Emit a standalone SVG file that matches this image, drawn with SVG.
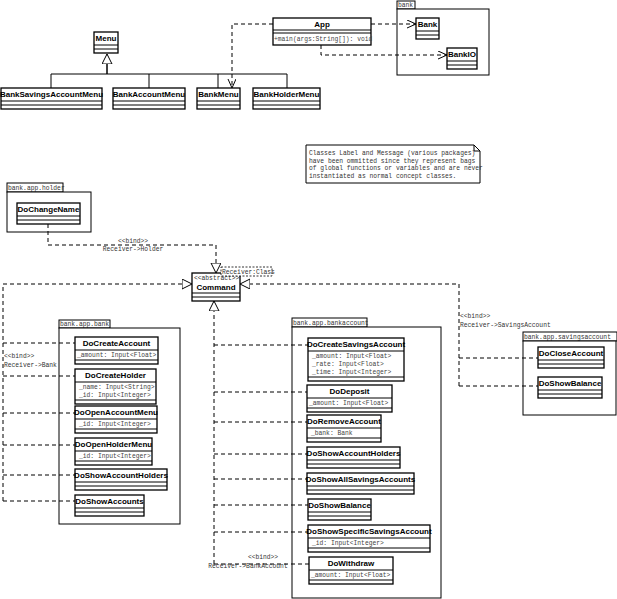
<svg xmlns="http://www.w3.org/2000/svg" width="617" height="599" viewBox="0 0 617 599">
<style>
.b{fill:#fff;stroke:#000;stroke-width:1.3}
.s{stroke:#000;stroke-width:1}
.t{font-family:"Liberation Sans",Arial,sans-serif;font-weight:bold;font-size:8px;text-anchor:middle}
.a{font-family:"Liberation Mono",monospace;font-size:6.3px;fill:#444}
.p{font-family:"Liberation Mono",monospace;font-size:6.3px;fill:#333}
.d{fill:none;stroke:#000;stroke-width:1;stroke-dasharray:4,3}
.l{fill:none;stroke:#000;stroke-width:1}
.pk{fill:#fff;stroke:#000;stroke-width:1}
</style>
<defs>
<marker id="tri" markerWidth="12" markerHeight="12" refX="10" refY="5" orient="auto" markerUnits="userSpaceOnUse"><path d="M0,0 L10,5 L0,10 Z" fill="#fff" stroke="#000"/></marker>
<marker id="opn" markerWidth="12" markerHeight="12" refX="9" refY="4" orient="auto" markerUnits="userSpaceOnUse"><path d="M0,0 L9,4 L0,8" fill="none" stroke="#000"/></marker>
</defs>
<g id="pkg-bank"><rect class="pk" x="397" y="1" width="18" height="8"/><text class="p" x="398" y="7">bank</text><rect class="pk" x="397" y="9" width="92" height="66"/></g>
<g id="pkg-holder"><rect class="pk" x="7" y="183" width="56" height="9"/><text class="p" x="8" y="190">bank.app.holder</text><rect class="pk" x="7" y="192" width="84" height="40"/></g>
<g id="pkg-appbank"><rect class="pk" x="59" y="320" width="51" height="8"/><text class="p" x="60" y="326">bank.app.bank</text><rect class="pk" x="59" y="328" width="121" height="196"/></g>
<g id="pkg-bankaccount"><rect class="pk" x="292" y="318" width="75" height="9"/><text class="p" x="293" y="325">bank.app.bankaccount</text><rect class="pk" x="292" y="327" width="149" height="271"/></g>
<g id="pkg-savings"><rect class="pk" x="523" y="332" width="94" height="9"/><text class="p" x="524" y="339">bank.app.savingsaccount</text><rect class="pk" x="523" y="341" width="93" height="74"/></g>
<g id="note"><path class="pk" d="M306,145 H474 L480,151 V183 H306 Z"/><path class="l" d="M474,145 V151 H480"/>
<text class="p" x="309" y="155">Classes Label and Message (various packages)</text>
<text class="p" x="309" y="163">have been ommitted since they represent bags</text>
<text class="p" x="309" y="170">of global functions or variables and are never</text>
<text class="p" x="309" y="178">instantiated as normal concept classes.</text></g>
<g id="connectors">
<path class="l" d="M107,63 V74 M51,74 H287 M51,74 V88 M149,74 V88 M218,74 V88 M287,74 V88"/>
<path class="l" d="M107,74 V54" marker-end="url(#tri)"/>
<path class="d" d="M273,24 H232 V88" marker-end="url(#opn)"/>
<path class="d" d="M371,24 H416" marker-end="url(#opn)"/>
<path class="d" d="M321,45 V55 H447" marker-end="url(#opn)"/>
<path class="d" d="M48,224 V245 H216 V273" marker-end="url(#tri)"/>
<text class="p" x="133" y="243" text-anchor="middle">&lt;&lt;bind&gt;&gt;</text>
<text class="p" x="133" y="251" text-anchor="middle">Receiver-&gt;Holder</text>
<path class="d" d="M3,501 V284 H192" marker-end="url(#tri)"/>
<path class="d" d="M3,343 H75 M3,376 H75 M3,413 H75 M3,445 H75 M3,475 H75 M3,501 H75"/>
<text class="p" x="4" y="358">&lt;&lt;bind&gt;&gt;</text>
<text class="p" x="4" y="367">Receiver-&gt;Bank</text>
<path class="d" d="M459,386 V284 H240" marker-end="url(#tri)"/>
<path class="d" d="M459,358 H538 M459,386 H538"/>
<text class="p" x="460" y="318">&lt;&lt;bind&gt;&gt;</text>
<text class="p" x="460" y="327">Receiver-&gt;SavingsAccount</text>
<path class="d" d="M214,564 V301" marker-end="url(#tri)"/>
<path class="d" d="M214,345 H308 M214,392 H307 M214,422 H307 M214,454 H307 M214,479 H307 M214,505 H308 M214,532 H308 M214,564 H309"/>
<text class="p" x="263" y="559" text-anchor="middle">&lt;&lt;bind&gt;&gt;</text>
<text class="p" x="248" y="568" text-anchor="middle">Receiver-&gt;BankAccount</text>
</g>
<g id="Menu"><rect class="b" x="94" y="32" width="24" height="21"/><path class="s" d="M94,45H118M94,49H118"/><text class="t" x="106" y="41">Menu</text></g>
<g id="BankSavingsAccountMenu"><rect class="b" x="1" y="88" width="101" height="21"/><path class="s" d="M1,101H102M1,105H102"/><text class="t" x="51.5" y="97">BankSavingsAccountMenu</text></g>
<g id="BankAccountMenu"><rect class="b" x="113" y="88" width="72" height="21"/><path class="s" d="M113,101H185M113,105H185"/><text class="t" x="149" y="97">BankAccountMenu</text></g>
<g id="BankMenu"><rect class="b" x="197" y="88" width="43" height="21"/><path class="s" d="M197,101H240M197,105H240"/><text class="t" x="218.5" y="97">BankMenu</text></g>
<g id="BankHolderMenu"><rect class="b" x="253" y="88" width="67" height="21"/><path class="s" d="M253,101H320M253,105H320"/><text class="t" x="286.5" y="97">BankHolderMenu</text></g>
<g id="App"><rect class="b" x="273" y="18" width="98" height="27"/><path class="s" d="M273,30H371M273,33H371"/><text class="t" x="322" y="27">App</text><text class="a" x="274" y="41">+main(args:String[]): void</text></g>
<g id="Bank"><rect class="b" x="416" y="18" width="23" height="21"/><path class="s" d="M416,31H439M416,35H439"/><text class="t" x="427.5" y="27">Bank</text></g>
<g id="BankIO"><rect class="b" x="447" y="48" width="30" height="21"/><path class="s" d="M447,61H477M447,65H477"/><text class="t" x="462" y="57">BankIO</text></g>
<g id="Command"><rect class="b" x="192" y="273" width="48" height="28"/><path class="s" d="M192,293H240M192,297H240"/><text class="p" x="194" y="280">&lt;&lt;abstract&gt;&gt;</text><text class="t" x="216" y="290">Command</text></g>
<g id="template"><rect x="221" y="267" width="51" height="9" fill="#fff" stroke="#000" stroke-width="0.8" stroke-dasharray="2,1.5"/><text class="p" x="222" y="274">Receiver:Class</text></g>
<g id="DoChangeName"><rect class="b" x="17" y="203" width="63" height="21"/><path class="s" d="M17,216H80M17,220H80"/><text class="t" x="48.5" y="212">DoChangeName</text></g>
<g id="DoCreateAccount"><rect class="b" x="75" y="337" width="83" height="27"/><path class="s" d="M75,350H158M75,360H158"/><text class="t" x="116.5" y="346">DoCreateAccount</text><text class="a" x="77" y="357">_amount: Input&lt;Float&gt;</text></g>
<g id="DoCreateHolder"><rect class="b" x="75" y="369" width="81" height="35"/><path class="s" d="M75,382H156M75,400H156"/><text class="t" x="115.5" y="378">DoCreateHolder</text><text class="a" x="79" y="389">_name: Input&lt;String&gt;</text><text class="a" x="79" y="397">_id: Input&lt;Integer&gt;</text></g>
<g id="DoOpenAccountMenu"><rect class="b" x="75" y="406" width="82" height="27"/><path class="s" d="M75,419H157M75,429H157"/><text class="t" x="116" y="415">DoOpenAccountMenu</text><text class="a" x="79" y="426">_id: Input&lt;Integer&gt;</text></g>
<g id="DoOpenHolderMenu"><rect class="b" x="75" y="438" width="77" height="27"/><path class="s" d="M75,451H152M75,461H152"/><text class="t" x="113.5" y="447">DoOpenHolderMenu</text><text class="a" x="79" y="458">_id: Input&lt;Integer&gt;</text></g>
<g id="DoShowAccountHolders1"><rect class="b" x="75" y="469" width="92" height="21"/><path class="s" d="M75,482H167M75,486H167"/><text class="t" x="121" y="478">DoShowAccountHolders</text></g>
<g id="DoShowAccounts"><rect class="b" x="75" y="495" width="69" height="21"/><path class="s" d="M75,508H144M75,512H144"/><text class="t" x="109.5" y="504">DoShowAccounts</text></g>
<g id="DoCreateSavingsAccount"><rect class="b" x="308" y="338" width="96" height="43"/><path class="s" d="M308,351H404M308,377H404"/><text class="t" x="356" y="347">DoCreateSavingsAccount</text><text class="a" x="312" y="358">_amount: Input&lt;Float&gt;</text><text class="a" x="312" y="366">_rate: Input&lt;Float&gt;</text><text class="a" x="312" y="374">_time: Input&lt;Integer&gt;</text></g>
<g id="DoDeposit"><rect class="b" x="307" y="385" width="85" height="27"/><path class="s" d="M307,398H392M307,408H392"/><text class="t" x="349.5" y="394">DoDeposit</text><text class="a" x="309" y="405">_amount: Input&lt;Float&gt;</text></g>
<g id="DoRemoveAccount"><rect class="b" x="307" y="415" width="74" height="27"/><path class="s" d="M307,428H381M307,438H381"/><text class="t" x="344" y="424">DoRemoveAccount</text><text class="a" x="311" y="435">_bank: Bank</text></g>
<g id="DoShowAccountHolders2"><rect class="b" x="307" y="447" width="93" height="21"/><path class="s" d="M307,460H400M307,464H400"/><text class="t" x="353.5" y="456">DoShowAccountHolders</text></g>
<g id="DoShowAllSavingsAccounts"><rect class="b" x="307" y="473" width="107" height="21"/><path class="s" d="M307,486H414M307,490H414"/><text class="t" x="360.5" y="482">DoShowAllSavingsAccounts</text></g>
<g id="DoShowBalance1"><rect class="b" x="308" y="499" width="63" height="21"/><path class="s" d="M308,512H371M308,516H371"/><text class="t" x="339.5" y="508">DoShowBalance</text></g>
<g id="DoShowSpecificSavingsAccount"><rect class="b" x="308" y="525" width="122" height="27"/><path class="s" d="M308,538H430M308,548H430"/><text class="t" x="369" y="534">DoShowSpecificSavingsAccount</text><text class="a" x="312" y="545">_id: Input&lt;Integer&gt;</text></g>
<g id="DoWithdraw"><rect class="b" x="309" y="557" width="84" height="27"/><path class="s" d="M309,570H393M309,580H393"/><text class="t" x="351" y="566">DoWithdraw</text><text class="a" x="311" y="577">_amount: Input&lt;Float&gt;</text></g>
<g id="DoCloseAccount"><rect class="b" x="538" y="347" width="66" height="21"/><path class="s" d="M538,360H604M538,364H604"/><text class="t" x="571" y="356">DoCloseAccount</text></g>
<g id="DoShowBalance2"><rect class="b" x="538" y="377" width="64" height="21"/><path class="s" d="M538,390H602M538,394H602"/><text class="t" x="570" y="386">DoShowBalance</text></g>
</svg>
